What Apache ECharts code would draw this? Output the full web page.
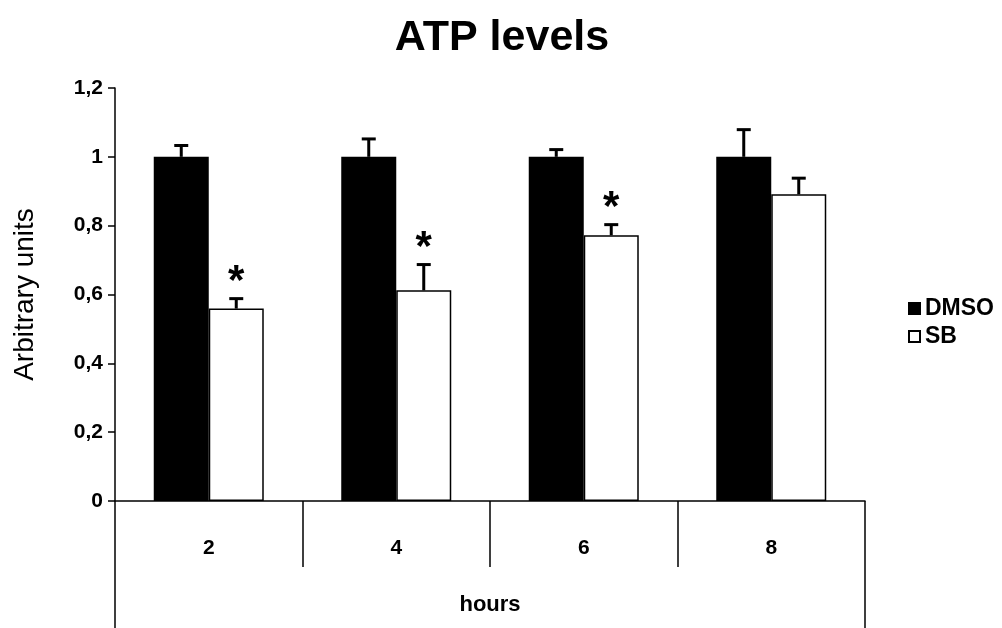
<!DOCTYPE html>
<html>
<head>
<meta charset="utf-8">
<script src="https://cdn.jsdelivr.net/npm/echarts@6/dist/echarts.min.js"></script>
<style>html,body{margin:0;padding:0;background:#fff;}#c{width:1002px;height:628px;}</style>
</head>
<body>
<div id="c"></div>
<script>
const hours = ['2', '4', '6', '8'];
const dmso = [1, 1, 1, 1];
const dmsoErr = [0.033, 0.052, 0.021, 0.079];
const sb = [0.559, 0.612, 0.772, 0.891];
const sbErr = [0.029, 0.075, 0.031, 0.047];
const sig = ['*', '*', '*', ''];
const yTicks = [0, 0.2, 0.4, 0.6, 0.8, 1, 1.2];

const BW = 55;
const FONT = 'Liberation Sans, Arial, sans-serif';

function errSeries(name, vals, errs, side, marks) {
  return {
    type: 'custom',
    name: name + ' err',
    xAxisIndex: 0,
    z: 5,
    data: vals.map((v, i) => [i, v, errs[i], marks ? marks[i] : '']),
    renderItem: function (params, api) {
      const i = api.value(0);
      const base = api.coord([i, api.value(1)]);
      const top = api.coord([i, api.value(1) + api.value(2)]);
      const x = base[0] + side * BW / 2;
      const children = [
        {type: 'line', shape: {x1: x, y1: base[1], x2: x, y2: top[1]}, style: {stroke: '#000', lineWidth: 3}},
        {type: 'line', shape: {x1: x - 7, y1: top[1], x2: x + 7, y2: top[1]}, style: {stroke: '#000', lineWidth: 3}}
      ];
      const m = api.value(3);
      if (m) {
        children.push({type: 'text', style: {text: m, x: x, y: top[1] - 16, align: 'center', verticalAlign: 'middle',
          font: 'bold 42px ' + FONT, fill: '#000'}});
      }
      return {type: 'group', children: children};
    }
  };
}

const chart = echarts.init(document.getElementById('c'), null, {renderer: 'canvas'});
chart.setOption({
  animation: false,
  backgroundColor: '#fff',
  title: {
    text: 'ATP levels', left: 497, top: 12, textAlign: 'center',
    textStyle: {fontFamily: FONT, fontWeight: 'bold', fontSize: 43, color: '#000'}
  },
  legend: {
    orient: 'vertical', left: 903, top: 292, itemWidth: 11, itemHeight: 11, itemGap: 5,
    icon: 'rect',
    data: ['DMSO', 'SB'],
    textStyle: {fontFamily: FONT, fontSize: 23, fontWeight: 'bold', color: '#000', padding: [0, 0, 0, 0]}
  },
  grid: {left: 115, right: 137, top: 88, bottom: 127},
  xAxis: [
    {
      type: 'category', data: hours, position: 'bottom',
      axisLine: {show: true, lineStyle: {color: '#000', width: 1.5}},
      axisTick: {show: true, interval: 0, length: 66, lineStyle: {color: '#000', width: 1.5}},
      axisLabel: {margin: 37, fontFamily: FONT, fontWeight: 'bold', fontSize: 21, color: '#000'},
      splitLine: {show: false}
    },
    {
      type: 'category', data: ['hours'], position: 'bottom',
      axisLine: {show: false},
      axisTick: {show: true, interval: 0, length: 127, lineStyle: {color: '#000', width: 1.5}},
      axisLabel: {margin: 93, fontFamily: FONT, fontWeight: 'bold', fontSize: 22, color: '#000'},
      splitLine: {show: false}
    }
  ],
  yAxis: {
    type: 'value', min: 0, max: 1.2, interval: 0.2,
    name: 'Arbitrary units', nameLocation: 'middle', nameGap: 76, nameRotate: 90,
    nameTextStyle: {fontFamily: FONT, fontSize: 28, color: '#000'},
    axisLine: {show: true, lineStyle: {color: '#000', width: 1.5}},
    axisTick: {show: true, length: 7, lineStyle: {color: '#000', width: 1.5}},
    splitLine: {show: false},
    axisLabel: {
      margin: 12, fontFamily: FONT, fontWeight: 'bold', fontSize: 21, color: '#000',
      formatter: function (v) {
        const t = yTicks.find(k => Math.abs(k - v) < 1e-9);
        return String(Math.round((t === undefined ? v : t) * 10) / 10).replace('.', ',');
      }
    }
  },
  series: [
    {
      name: 'DMSO', type: 'bar', xAxisIndex: 0, data: dmso, barWidth: BW, barGap: '0%',
      itemStyle: {color: '#000', borderColor: '#000', borderWidth: 1.5}
    },
    {
      name: 'SB', type: 'bar', xAxisIndex: 0, data: sb, barWidth: BW, barGap: '0%',
      itemStyle: {color: '#fff', borderColor: '#000', borderWidth: 1.5}
    },
    errSeries('DMSO', dmso, dmsoErr, -1, null),
    errSeries('SB', sb, sbErr, 1, sig)
  ]
});
</script>
</body>
</html>
